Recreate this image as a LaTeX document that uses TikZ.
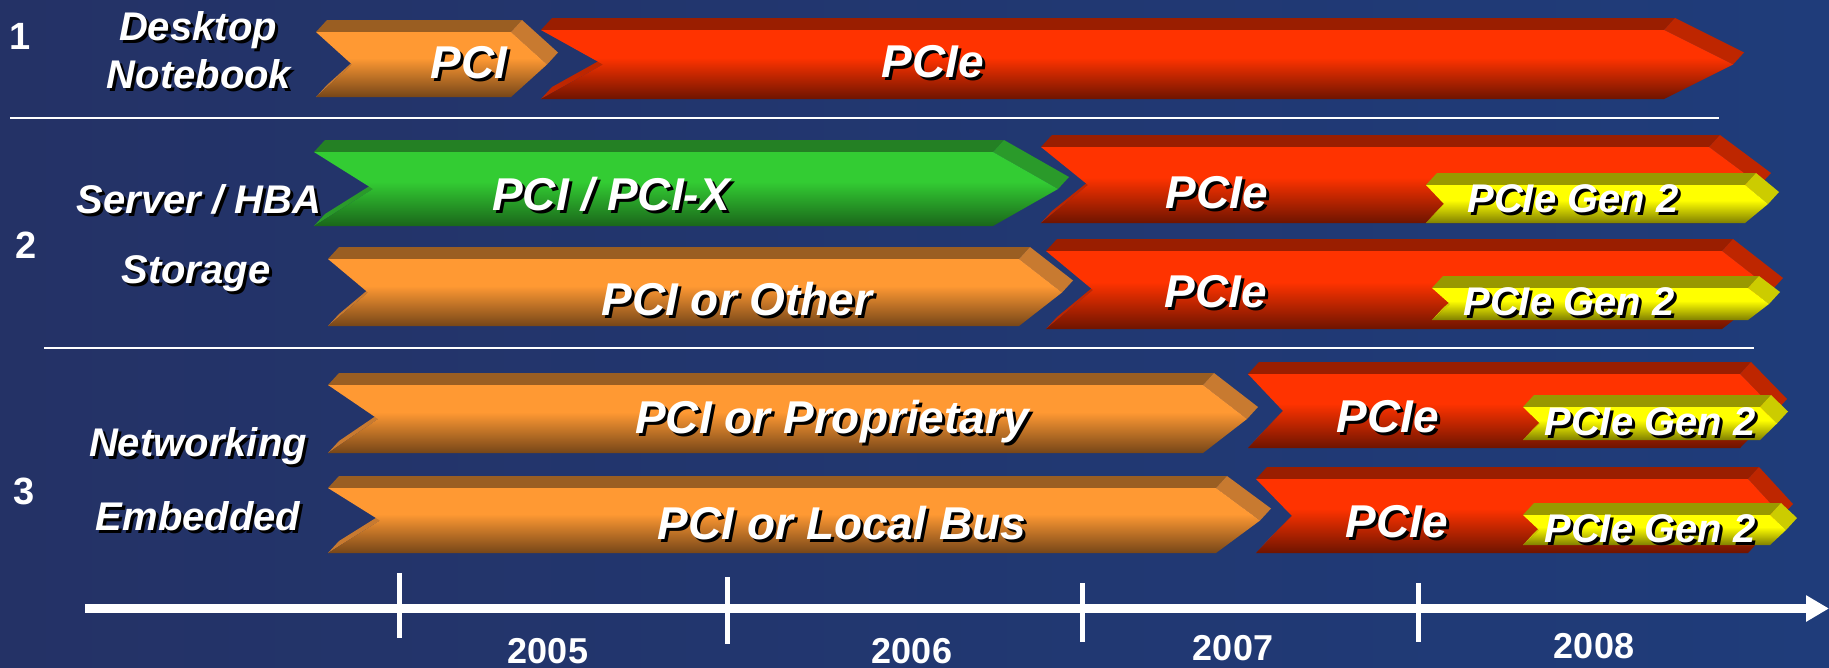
\documentclass[tikz,border=0pt]{standalone}
\usepackage{fontspec}
\setmainfont{Liberation Sans}
\usetikzlibrary{calc,arrows.meta}
\definecolor{bgL}{RGB}{36,50,102}
\definecolor{bgR}{RGB}{31,60,122}
\definecolor{orT}{RGB}{255,153,51}
\definecolor{orB}{RGB}{118,70,24}
\definecolor{orTopC}{RGB}{154,94,34}
\definecolor{orSideC}{RGB}{200,122,48}
\definecolor{rdT}{RGB}{255,51,0}
\definecolor{rdB}{RGB}{110,20,0}
\definecolor{rdTopC}{RGB}{154,30,0}
\definecolor{rdSideC}{RGB}{190,38,0}
\definecolor{grT}{RGB}{51,204,51}
\definecolor{grB}{RGB}{26,102,26}
\definecolor{grTopC}{RGB}{36,128,36}
\definecolor{grSideC}{RGB}{42,154,42}
\definecolor{ylT}{RGB}{255,255,0}
\definecolor{ylB}{RGB}{128,128,0}
\definecolor{ylTopC}{RGB}{153,153,0}
\definecolor{ylSideC}{RGB}{204,204,0}
\pgfdeclareverticalshading{orFront}{100bp}{color(0bp)=(orB); color(25bp)=(orB); color(55bp)=(orT); color(100bp)=(orT)}
\pgfdeclareverticalshading{rdFront}{100bp}{color(0bp)=(rdB); color(25bp)=(rdB); color(55bp)=(rdT); color(100bp)=(rdT)}
\pgfdeclareverticalshading{grFront}{100bp}{color(0bp)=(grB); color(25bp)=(grB); color(55bp)=(grT); color(100bp)=(grT)}
\pgfdeclareverticalshading{ylFront}{100bp}{color(0bp)=(ylB); color(25bp)=(ylB); color(55bp)=(ylT); color(100bp)=(ylT)}
\tikzset{
  orTop/.style={fill=orTopC}, orSide/.style={fill=orSideC},
  rdTop/.style={fill=rdTopC}, rdSide/.style={fill=rdSideC},
  grTop/.style={fill=grTopC}, grSide/.style={fill=grSideC},
  ylTop/.style={fill=ylTopC}, ylSide/.style={fill=ylSideC},
  lab/.style={font=\fontsize{40}{44}\selectfont\bfseries\itshape, text=white, inner sep=0pt},
  big/.style={font=\fontsize{46}{50}\selectfont\bfseries\itshape, text=white, inner sep=0pt},
  gen/.style={font=\fontsize{40}{44}\selectfont\bfseries\itshape, text=white, inner sep=0pt},
  num/.style={font=\fontsize{38}{42}\selectfont\bfseries, text=white, inner sep=0pt, anchor=base},
  yr/.style={font=\fontsize{36}{40}\selectfont\bfseries, text=white, inner sep=0pt, anchor=base},
  sep/.style={draw=white, line width=2pt},
  tick/.style={draw=white, line width=5pt}
}
\newcommand\dX{11}
\newcommand\dY{12}
% L, T, B, notch depth, shoulder x, tip depth, scheme
\newcommand\barr[7]{%
  \pgfmathsetmacro\bM{(#2+#3)/2}%
  \pgfmathsetmacro\bT{#5+#6}%
  \pgfmathsetmacro\bN{#1+#4}%
  \fill[#7Side] (#1,#3) -- (#1+\dX,#3-\dY) -- (\bN+\dX,\bM-\dY) -- (\bN,\bM) -- cycle;
  \fill[#7Top] (#1,#2) -- (#1+\dX,#2-\dY) -- (#5+\dX,#2-\dY) -- (#5,#2) -- cycle;
  \fill[#7Side] (#5,#2) -- (#5+\dX,#2-\dY) -- (\bT+\dX,\bM-\dY) -- (\bT,\bM) -- cycle;
  \shade[shading=#7Front] (#1,#2) -- (#5,#2) -- (\bT,\bM) -- (#5,#3) -- (#1,#3) -- (\bN,\bM) -- cycle;
}
\newcommand\stx[5]{%
  \node[#1, text=black, anchor=base] at (#3+3,#4+3) {#5};
  \node[#1, anchor=base] (#2) at (#3,#4) {#5};
}
\begin{document}
\begin{tikzpicture}[x=1pt,y=-1pt]
\useasboundingbox (0,0) rectangle (1829,667);
\shade[left color=bgL, right color=bgR] (0,0) rectangle (1829,667);
% separators
\draw[sep] (10,118) -- (1719,118);
\draw[sep] (44,348) -- (1754,348);
% row 1
\barr{316}{32}{97}{36}{511}{36}{or}
\barr{541}{30}{99}{62}{1664}{69}{rd}
% row 2
\barr{314}{152}{226}{59}{993}{65}{gr}
\barr{1041}{147}{223}{47}{1709}{51}{rd}
\barr{1426}{185}{223}{18}{1745}{23}{yl}
\barr{328}{259}{326}{40}{1019}{43}{or}
\barr{1046}{251}{329}{47}{1722}{50}{rd}
\barr{1432}{288}{320}{18}{1748}{21}{yl}
% row 3
\barr{328}{385}{453}{50}{1203}{44}{or}
\barr{1248}{374}{448}{35}{1740}{36}{rd}
\barr{1523}{407}{440}{17}{1760}{17}{yl}
\barr{328}{488}{553}{52}{1216}{44}{or}
\barr{1256}{479}{553}{36}{1748}{34}{rd}
\barr{1523}{515}{545}{16}{1770}{16}{yl}
% left labels
\node[num] (n1) at (20,49) {1};
\node[num] (n2) at (26,258) {2};
\node[num] (n3) at (24,504) {3};
\stx{lab}{desk}{198}{40}{Desktop}
\stx{lab}{note}{199}{88}{Notebook}
\stx{lab}{serv}{199}{213}{Server / HBA}
\stx{lab}{stor}{196}{283}{Storage}
\stx{lab}{netw}{198}{456}{Networking}
\stx{lab}{embd}{198}{530}{Embedded}
% bar labels
\stx{big}{t1}{469}{78}{PCI}
\stx{big}{t2}{933}{77}{PCIe}
\stx{big}{t3}{611}{210}{PCI / PCI-X}
\stx{big}{t4}{1217}{208}{PCIe}
\stx{gen}{t5}{1573}{212}{PCIe Gen 2}
\stx{big}{t6}{737}{315}{PCI or Other}
\stx{big}{t7}{1216}{307}{PCIe}
\stx{gen}{t8}{1569}{315}{PCIe Gen 2}
\stx{big}{t9}{832}{433}{PCI or Proprietary}
\stx{big}{t10}{1388}{432}{PCIe}
\stx{gen}{t11}{1650}{435}{PCIe Gen 2}
\stx{big}{t12}{842}{539}{PCI or Local Bus}
\stx{big}{t13}{1397}{537}{PCIe}
\stx{gen}{t14}{1650}{542}{PCIe Gen 2}
% timeline
\coordinate (axS) at (85,608.5);
\coordinate (axE) at (1829,608.5);
\draw[draw=white, line width=9pt, -{Triangle[length=23pt,width=25pt]}] (axS) -- (axE);
\draw[tick] (399,573) -- (399,638);
\draw[tick] (727,577) -- (727,644);
\draw[tick] (1082,583) -- (1082,642);
\draw[tick] (1418,583) -- (1418,642);
\node[yr] (y5) at (548,663) {2005};
\node[yr] (y6) at (912,663) {2006};
\node[yr] (y7) at (1233,660) {2007};
\node[yr] (y8) at (1594,658) {2008};
\end{tikzpicture}
\end{document}
